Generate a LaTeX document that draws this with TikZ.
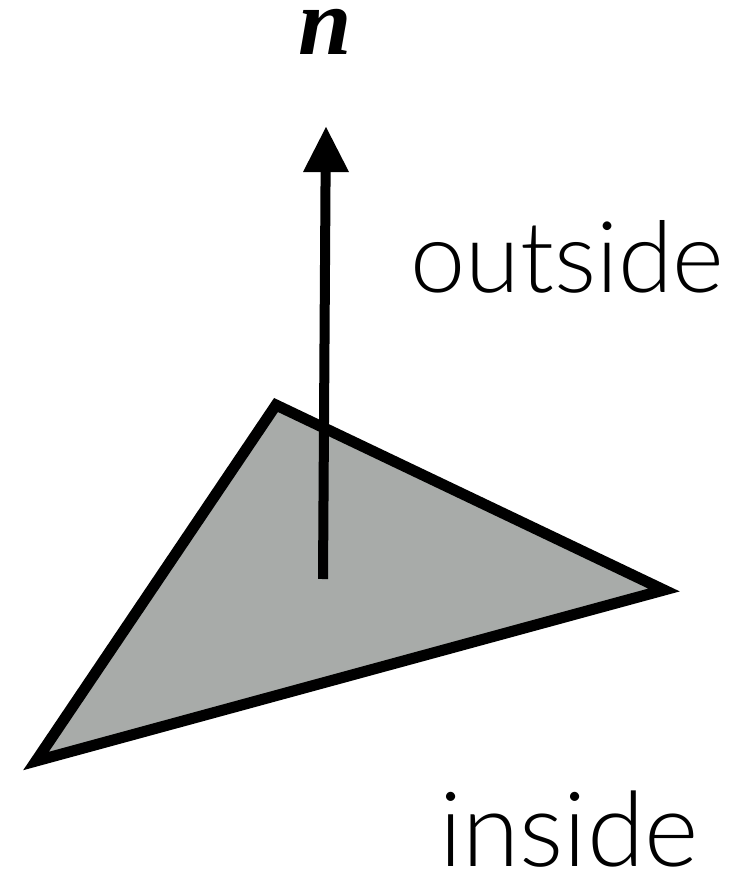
\documentclass[tikz,border=0pt]{standalone}
\usepackage{fontspec}
\setmainfont{Lato Light}[BoldFont={Lato}]
\newfontfamily\serifbi{Liberation Serif}
\definecolor{fillgray}{RGB}{168,171,169}
\tikzset{lbl/.style={inner sep=0pt,text=black,anchor=base}}
\begin{document}
\begin{tikzpicture}[x=1pt,y=-1pt]
\useasboundingbox (0,0) rectangle (745,872);
\coordinate (a) at (276,405);
\coordinate (b) at (664,590);
\coordinate (c) at (36,761);
\coordinate (foot) at (323,579);
\coordinate (tip) at (326,127);
\coordinate (neck) at (325.6,170);
\draw[line width=11pt,miter limit=10,fill=fillgray,line join=miter] (a) -- (b) -- (c) -- cycle;
\draw[line width=10pt] (foot) -- (neck);
\fill (tip) -- (349,172) -- (303,172) -- cycle;
\node[lbl,font={\serifbi\bfseries\itshape\fontsize{96}{96}\selectfont}] (n) at (325,55) {n};
\node[lbl,font=\fontsize{99}{99}\selectfont] (o) at (567.5,292) {outside};
\node[lbl,font=\fontsize{104}{104}\selectfont] (i) at (569,866) {inside};
\end{tikzpicture}
\end{document}
